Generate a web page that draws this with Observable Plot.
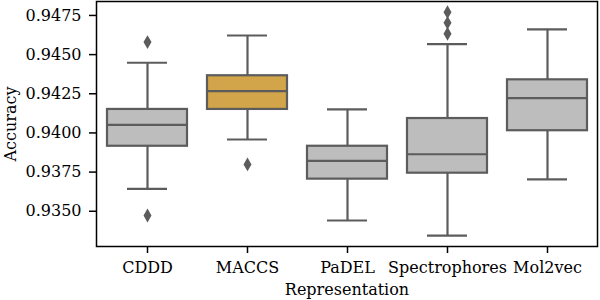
<!DOCTYPE html>
<html>
<head>
<meta charset="utf-8">
<script src="https://cdn.jsdelivr.net/npm/d3@7"></script>
<script src="https://cdn.jsdelivr.net/npm/@observablehq/plot@0.6"></script>
<style>
  html, body { margin: 0; padding: 0; background: #fff; }
  #chart { width: 600px; height: 300px; }
</style>
</head>
<body>
<div id="chart"></div>
<script>
const categories = ["CDDD", "MACCS", "PaDEL", "Spectrophores", "Mol2vec"];
const whiskerLow  = [0.93643, 0.93958, 0.93441, 0.93345, 0.93703];
const q1          = [0.93915, 0.94150, 0.93705, 0.93743, 0.94014];
const medians     = [0.94052, 0.94267, 0.93822, 0.93864, 0.94222];
const q3          = [0.94150, 0.94365, 0.93915, 0.94092, 0.94339];
const whiskerHigh = [0.94448, 0.94622, 0.94150, 0.94567, 0.94661];
const boxColors   = ["#bdbdbd", "#d2a54a", "#bdbdbd", "#bdbdbd", "#bdbdbd"];
const outlierCats = ["CDDD", "CDDD", "MACCS", "Spectrophores", "Spectrophores", "Spectrophores"];
const outlierVals = [0.94580, 0.93473, 0.93799, 0.94633, 0.94703, 0.94771];
const yTicks = [0.9350, 0.9375, 0.9400, 0.9425, 0.9450, 0.9475];

const boxes = categories.map((c, i) => ({
  cat: c, lo: whiskerLow[i], q1: q1[i], med: medians[i], q3: q3[i], hi: whiskerHigh[i], color: boxColors[i]
}));
const outliers = outlierCats.map((c, i) => ({cat: c, v: outlierVals[i]}));

const edge = "#5c5c5c";
const font = "DejaVu Serif";

const chart = Plot.plot({
  width: 600,
  height: 300,
  marginLeft: 96,
  marginRight: 3,
  marginTop: 1,
  marginBottom: 54,
  style: {fontFamily: font, fontSize: "16px", color: "black", background: "white"},
  x: {type: "band", domain: categories, paddingInner: 0.2, paddingOuter: 0.1, align: 0.5},
  y: {domain: [0.93275, 0.94839]},
  marks: [
    Plot.ruleX(boxes, {x: "cat", y1: "lo", y2: "q1", stroke: edge, strokeWidth: 2.2}),
    Plot.ruleX(boxes, {x: "cat", y1: "q3", y2: "hi", stroke: edge, strokeWidth: 2.2}),
    Plot.tickY(boxes, {x: "cat", y: "lo", stroke: edge, strokeWidth: 2.2, insetLeft: 20, insetRight: 20}),
    Plot.tickY(boxes, {x: "cat", y: "hi", stroke: edge, strokeWidth: 2.2, insetLeft: 20, insetRight: 20}),
    Plot.barY(boxes, {x: "cat", y1: "q1", y2: "q3", fill: "color", stroke: edge, strokeWidth: 2.2}),
    Plot.tickY(boxes, {x: "cat", y: "med", stroke: edge, strokeWidth: 2.2}),
    Plot.dot(outliers, {x: "cat", y: "v", symbol: "diamond", r: 4.2, fill: edge, stroke: "none"}),
    Plot.frame({stroke: "black", strokeWidth: 1.5}),
    Plot.axisY({ticks: yTicks, tickFormat: d3.format(".4f"), tickSize: 7, tickPadding: 8,
      label: "Accuracy", labelAnchor: "center", labelArrow: "none", labelOffset: 92, strokeWidth: 1.5}),
    Plot.axisX({tickSize: 7, tickPadding: 8, label: "Representation", labelAnchor: "center",
      labelArrow: "none", labelOffset: 48, strokeWidth: 1.5})
  ]
});
document.getElementById("chart").appendChild(chart);
</script>
</body>
</html>
